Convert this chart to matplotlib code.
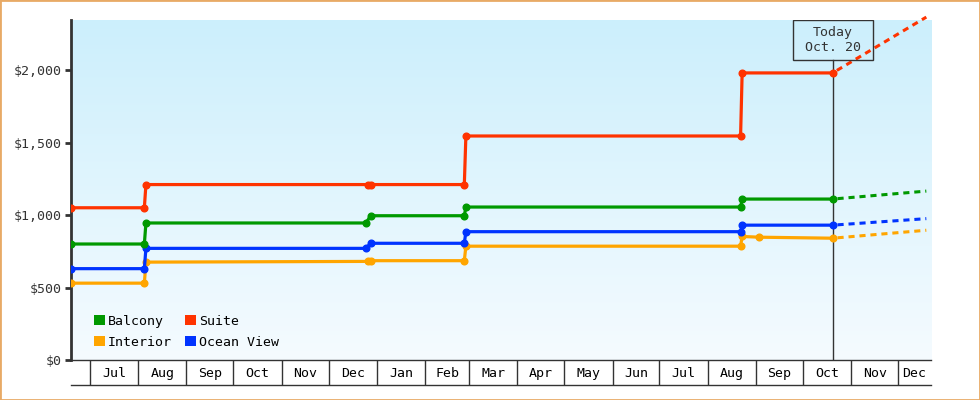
import numpy as np
import pandas as pd
import matplotlib
matplotlib.use('Agg')
import matplotlib.pyplot as plt
import matplotlib.dates as mdates
from matplotlib.patches import Patch, Rectangle
from matplotlib.ticker import FuncFormatter

# price history per cabin type (dates of each change)
suite_dates = ['2018-06-19', '2018-08-05', '2018-08-06', '2018-12-26', '2018-12-28',
               '2019-02-26', '2019-02-27', '2019-08-22', '2019-08-23', '2019-10-20']
suite_vals = [1050, 1050, 1210, 1210, 1210, 1210, 1545, 1545, 1980, 1980]

balcony_dates = ['2018-06-19', '2018-08-05', '2018-08-06', '2018-12-25', '2018-12-28',
                 '2019-02-26', '2019-02-27', '2019-08-22', '2019-08-23', '2019-10-20']
balcony_vals = [800, 800, 945, 945, 995, 995, 1055, 1055, 1110, 1110]

ocean_dates = ['2018-06-19', '2018-08-05', '2018-08-06', '2018-12-25', '2018-12-28',
               '2019-02-26', '2019-02-27', '2019-08-22', '2019-08-23', '2019-10-20']
ocean_vals = [630, 630, 770, 770, 805, 805, 885, 885, 930, 930]

interior_dates = ['2018-06-19', '2018-08-05', '2018-08-06', '2018-12-26', '2018-12-28',
                  '2019-02-26', '2019-02-27', '2019-08-22', '2019-08-23', '2019-09-03',
                  '2019-10-20']
interior_vals = [530, 530, 675, 680, 685, 685, 785, 785, 852, 847, 840]

# projected prices (dashed)
forecast_end = '2019-12-19'
forecast_vals = {'Suite': 2365, 'Balcony': 1165, 'Ocean View': 975, 'Interior': 895}

today = '2019-10-20'
today_label = 'Today\nOct. 20'

x_start, x_end = '2018-06-19', '2019-12-22'
month_starts = pd.date_range('2018-07-01', '2019-12-01', freq='MS')
month_labels = [d.strftime('%b') for d in month_starts]

colors = {'Balcony': '#009900', 'Suite': '#ff3300',
          'Interior': '#ffa500', 'Ocean View': '#0033ff'}
dark = '#333333'
mono = 'DejaVu Sans Mono'

fig = plt.figure(figsize=(9.8, 4), dpi=100)
ax = fig.add_axes([71 / 980, 40 / 400, 860 / 980, 340 / 400])
ax.set_facecolor('none')

# background gradient
grad = np.linspace(0, 1, 256).reshape(-1, 1)
top_c = np.array([204, 239, 252]) / 255
bot_c = np.array([245, 251, 255]) / 255
img = top_c * (1 - grad[..., None]) + bot_c * grad[..., None]
img = img.reshape(256, 1, 3)
ax.imshow(img, extent=[0, 1, 0, 1], transform=ax.transAxes, aspect='auto', zorder=0)

series = [('Interior', interior_dates, interior_vals),
          ('Ocean View', ocean_dates, ocean_vals),
          ('Balcony', balcony_dates, balcony_vals),
          ('Suite', suite_dates, suite_vals)]

for name, d, v in series:
    dt = pd.to_datetime(d)
    ax.plot(dt, v, color=colors[name], lw=2.3, marker='o', ms=4.8, zorder=3)
    ax.plot(pd.to_datetime([today, forecast_end]), [v[-1], forecast_vals[name]],
            color=colors[name], lw=2.2, linestyle=(2, (2, 1.6)), clip_on=False, zorder=3)

# today marker
td = pd.Timestamp(today)
box_top = 1.0
box_bot = (360 - 60) / 340
ax.axvline(td, ymin=0, ymax=box_bot, color=dark, lw=1, zorder=2)
half = pd.Timedelta(days=25.6)
ax.add_patch(Rectangle((mdates.date2num(td - half), box_bot),
                       mdates.date2num(td + half) - mdates.date2num(td - half),
                       box_top - box_bot, transform=ax.get_xaxis_transform(),
                       fill=False, ec=dark, lw=1, zorder=4))
ax.text(td, (box_top + box_bot) / 2, today_label, transform=ax.get_xaxis_transform(),
        ha='center', va='center', fontsize=9.5, family=mono, color=dark,
        linespacing=1.25, zorder=5)

ax.set_xlim(pd.Timestamp(x_start), pd.Timestamp(x_end))
ax.set_ylim(0, 2345)

# y axis
ax.set_yticks([0, 500, 1000, 1500, 2000])
ax.yaxis.set_major_formatter(FuncFormatter(lambda v, p: f'${v:,.0f}'))
ax.tick_params(axis='y', length=4, width=2, color=dark, pad=3,
               labelsize=9.5, labelcolor=dark)
for lab in ax.get_yticklabels():
    lab.set_family(mono)

# x axis as a row of month cells
ax.set_xticks(month_starts)
ax.xaxis.set_major_formatter(plt.NullFormatter())
ax.tick_params(axis='x', which='major', length=18, width=1, color=dark, direction='out')
lo, hi = ax.get_xlim()
centers, labs = [], []
for i, m in enumerate(month_starts):
    a = mdates.date2num(m)
    b = mdates.date2num(month_starts[i + 1]) if i + 1 < len(month_starts) else hi
    centers.append((a + min(b, hi)) / 2)
    labs.append(month_labels[i])
ax.set_xticks(centers, minor=True)
ax.set_xticklabels(labs, minor=True)
ax.tick_params(axis='x', which='minor', length=0, pad=5, labelsize=9.5, labelcolor='black')
for lab in ax.get_xticklabels(minor=True):
    lab.set_family(mono)
ax.plot([0, 1], [-25 / 340, -25 / 340], transform=ax.transAxes, color=dark,
        lw=1, clip_on=False)

ax.spines['top'].set_visible(False)
ax.spines['right'].set_visible(False)
ax.spines['left'].set_linewidth(2)
ax.spines['left'].set_color(dark)
ax.spines['bottom'].set_linewidth(1)
ax.spines['bottom'].set_color(dark)

# legend
order = ['Balcony', 'Interior', 'Suite', 'Ocean View']
handles = [Patch(facecolor=colors[n], edgecolor='none', label=n) for n in order]
ax.legend(handles=handles, ncol=2, loc='lower left', bbox_to_anchor=(0.019, 0.014),
          frameon=False, prop={'family': mono, 'size': 9.5}, handlelength=0.85,
          handleheight=0.85, handletextpad=0.2, columnspacing=1.0, labelspacing=0.6,
          borderpad=0)

# orange frame around the whole image
fig.add_artist(Rectangle((0, 0), 1, 1, transform=fig.transFigure, fill=False,
                         ec='#e8aa66', lw=2))

fig.savefig('out.png', dpi=100)
